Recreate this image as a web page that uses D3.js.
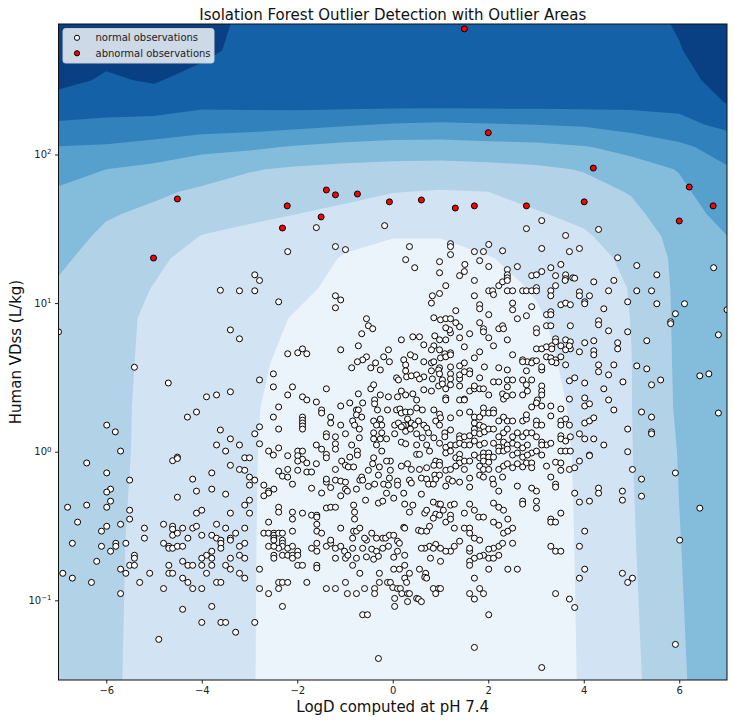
<!DOCTYPE html>
<html><head><meta charset="utf-8">
<script src="https://cdn.jsdelivr.net/npm/d3@7"></script>
<style>
body{margin:0;background:#fff;}
svg{display:block;font-family:"DejaVu Sans",sans-serif;}
</style></head>
<body>
<svg id="chart" width="734" height="720"></svg>
<script>
// ---------------- data ----------------
const titleText = "Isolation Forest Outlier Detection with Outlier Areas";
const xLabel = "LogD computed at pH 7.4";
const yLabel = "Human VDss (L/kg)";
const legendLabels = ["normal observations", "abnormal observations"];
const xTicks = [-6, -4, -2, 0, 2, 4, 6];
const yTicks = [0.1, 1, 10, 100];
const yTickExp = ["\u22121", "0", "1", "2"];
const xDomain = [-7, 7];
const yDomain = [0.0291, 755];

// decision-score grid (columns = LogD, rows = log10 VDss, top to bottom)
const gridLogD = [-7,-6,-5,-4,-3,-2,-1,0,1,2,3,4,5,6,7];
const gridLogVDss = [2.9,2.7,2.5,2.35,2.2,2.05,1.9,1.75,1.6,1.45,1.3,1.1,0.9,0.6,0.3,0.0,-0.6,-1.6];
const scoreColumns = [
 [7.8,7.6,7.3,6.59,5.88,4.97,4.35,3.89,3.65,3.40,3.15,2.9,2.75,2.6,2.55,2.5,2.5,2.5],
 [7.6,7.3,6.87,6.39,5.81,4.88,4.0,3.54,3.09,2.82,2.65,2.5,2.4,2.35,2.3,2.3,2.2,2.15],
 [7.7,7.5,7.1,6.47,5.69,4.64,3.76,3.16,2.81,2.54,2.2,1.96,1.79,1.76,1.74,1.72,1.7,1.7],
 [7.5,7.3,6.57,6.21,5.54,4.27,3.45,2.85,2.41,1.97,1.62,1.5,1.48,1.47,1.46,1.45,1.4,1.4],
 [6.7,6.6,6.45,6.3,5.42,4.17,3.07,2.59,2.15,1.82,1.65,1.5,1.4,1.3,1.2,1.15,1.12,1.1],
 [6.65,6.6,6.5,6.4,5.27,3.91,2.86,2.43,2.0,1.77,1.53,1.22,0.91,0.62,0.33,0.3,0.3,0.3],
 [6.65,6.6,6.5,6.4,5.1,3.7,2.74,2.26,1.78,1.31,0.9,0.72,0.4,0.25,0.2,0.2,0.2,0.2],
 [6.65,6.6,6.5,6.4,4.91,3.58,2.67,2.03,1.53,1.03,0.75,0.5,0.3,0.15,0.1,0.1,0.1,0.1],
 [6.65,6.6,6.5,6.4,4.83,3.58,2.62,1.94,1.48,1.03,0.75,0.5,0.3,0.15,0.1,0.1,0.1,0.1],
 [6.65,6.6,6.5,6.4,4.92,3.67,2.68,2.0,1.64,1.29,0.95,0.7,0.5,0.3,0.22,0.2,0.2,0.2],
 [6.65,6.6,6.5,6.4,5.0,3.75,2.82,2.36,1.92,1.6,1.3,1.07,0.9,0.75,0.6,0.4,0.4,0.4],
 [6.65,6.6,6.5,6.4,5.1,3.94,3.06,2.63,2.24,1.87,1.65,1.5,1.4,1.3,1.22,1.2,1.15,1.1],
 [6.65,6.6,6.45,6.3,5.42,4.29,3.6,3.07,2.75,2.52,2.21,2.05,2.02,1.99,1.985,1.97,1.9,1.75],
 [7.1,6.95,6.65,6.24,5.77,4.78,4.05,3.8,3.61,3.29,3.24,3.22,3.2,3.18,3.15,3.05,2.97,2.85],
 [7.8,7.6,7.4,7.05,6.2,5.45,4.9,4.59,4.29,3.99,3.95,3.9,3.88,3.85,3.82,3.8,3.75,3.7]
];
const contourLevels = [1,2,3,4,5,6,7];
const bandColors = ["#ebf3fb","#d2e3f3","#b2d2e8","#84bcdb","#56a0ce","#3181bd","#1461a8","#084083"];

// abnormal observations [LogD, VDss]
const abnormalObs = [
 [1.50,700],[2.0,140],[4.2,81],[6.21,60.4],[6.0,35.7],[6.71,45.1],[4.01,48],[2.8,45.1],[1.71,45.1],[1.31,43.6],
 [0.60,49.4],[-0.07,48],[-0.74,54.2],[-1.20,53.5],[-1.39,57.7],[-1.50,38],[-2.21,45.1],[-2.31,32],[-4.51,50.2],[-5.01,20.1]
];

// normal observations [LogD, VDss]
const normalUpperLeft = [
 [-3.61,12.2],[-3.40,6.6],[-7.0,6.4],[-5.41,3.7],[-4.70,2.9],[-3.90,2.34],[-3.69,2.41],[-3.40,2.53],[-4.30,1.71],[-4.11,1.85],
 [-5.99,1.51],[-5.81,1.36],[-3.61,1.40],[-3.40,1.22],[-3.69,1.11],[-3.50,1.01],[-5.70,1.01],[-6.41,0.84],[-4.61,0.87],[-4.51,0.92],
 [-4.51,0.90],[-5.99,0.72],[-3.79,0.72],[-3.40,0.81]
];
const normalUpperMidLeft = [
 [-1.60,32.2],[-0.17,33.2],[-2.20,22.2],[-1.20,24.0],[-0.99,22.9],[-2.89,15.5],[-2.79,14.2],[-3.21,12.1],[-2.89,12.1],[-2.39,10.2],
 [-1.20,11.2],[-1.09,10.5],[-1.20,9.3],[-0.55,7.85],[-0.51,7.04],[-0.42,6.72],[-0.65,6.22],[-3.21,5.75],[-0.72,5.16],[-1.09,4.85],
 [-2.20,4.56],[-1.99,4.63],[-1.89,4.92],[-1.80,4.56],[-0.09,4.85],[-0.19,4.35],[-0.55,4.35],[-0.63,4.15],[-0.74,4.03],[-0.86,3.67],
 [-0.46,3.67],[-0.36,3.96],[-0.26,3.55],[-0.07,4.03],[-2.50,3.34],[-2.79,3.04],[0.08,3.14],[-2.50,2.73],[-2.10,2.73],[-1.39,2.65],
 [-2.20,2.41],[-1.89,2.34],[-1.80,2.23],[-1.60,2.16],[-0.72,2.45],[-0.46,2.65],[-0.40,2.82],[-0.26,2.41],[-0.09,2.34],[0.10,2.34],
 [-0.38,2.23],[-0.90,2.13],[-0.63,2.13],[-2.39,2.0],[-1.09,2.03],[-1.49,1.91],[-1.49,1.82],[-0.76,1.91],[-0.72,1.91],[-0.32,1.91],
 [-0.11,1.91],[0.08,1.91],[-0.38,2.10],[-2.50,1.71],[-1.89,1.71],[-1.89,1.63],[-1.89,1.56],[-1.89,1.49],[-1.89,1.42],[-1.30,1.71],
 [-1.30,1.56],[-1.09,1.51],[-0.76,1.77],[-0.65,1.71],[-0.84,1.61],[-0.80,1.51],[-0.70,1.42],[-0.40,1.61],[-0.26,1.66],[-0.23,1.51],
 [-0.34,1.51],[0.04,1.51],[-2.79,1.47],[-2.39,1.42],[-2.89,1.32],[-1.39,1.32],[-1.39,1.26],[-1.20,1.26],[-0.99,1.32],[-0.70,1.24],
 [-0.40,1.22],[-0.26,1.22],[-0.13,1.22],[0.04,1.32],[-3.21,1.11],[-2.79,1.13],[-1.60,1.11],[-1.20,1.13],[-0.86,1.11],[-0.34,1.11],
 [-0.40,1.34],[-0.23,1.34],[-2.60,1.01],[-2.50,0.95],[-2.39,1.06],[-2.20,0.94],[-1.99,1.01],[-1.89,1.01],[-1.99,0.94],[-1.89,0.89],
 [-1.49,1.04],[-1.39,0.96],[-1.39,0.91],[-1.20,1.04],[-0.74,1.01],[-0.74,0.95],[-0.90,0.92],[-0.40,0.91],[-0.23,1.01],[-0.05,0.865],
 [-0.13,0.865],[-1.99,0.865],[-1.80,0.84],[-1.60,0.83],[-1.07,0.865],[-0.99,0.81],[-0.42,0.83],[-0.51,0.75],[-0.28,0.79],[-3.10,0.91],
 [-3.0,0.91],[-3.21,0.76],[-3.10,0.75],[-2.39,0.74],[-2.20,0.76],[-1.99,0.75],[-1.80,0.73],[-1.70,0.73],[-1.20,0.76],[-0.93,0.79],
 [-0.82,0.79],[-0.05,0.75]
];
const normalUpperMidRight = [
 [3.12,35.9],[2.80,31.7],[3.62,28.5],[0.35,24.0],[1.21,25.1],[1.21,24.0],[1.21,21.2],[2.01,24.8],[1.90,22.2],[1.71,22.2],
 [2.30,22.5],[3.12,23.3],[3.70,22.2],[0.27,19.6],[0.98,19.0],[1.82,19.3],[1.51,18.2],[0.46,17.3],[2.01,17.6],[2.61,17.6],
 [2.40,16.8],[0.98,16.0],[1.40,15.3],[1.50,16.3],[1.71,14.2],[2.40,15.5],[2.40,14.8],[2.91,15.3],[3.01,15.5],[3.12,16.3],
 [3.31,17.3],[3.52,18.2],[3.41,15.3],[3.62,15.5],[3.62,14.6],[3.77,14.8],[1.11,13.1],[0.83,11.2],[0.98,11.6],[0.81,10.0],
 [1.71,11.2],[2.01,12.1],[2.09,12.1],[2.11,11.4],[2.22,13.1],[2.30,13.9],[2.40,14.2],[2.40,12.1],[2.51,12.1],[2.72,12.1],
 [2.80,12.1],[2.91,12.1],[3.01,12.7],[3.01,12.1],[3.31,12.1],[3.31,11.2],[3.41,13.1],[3.61,14.2],[1.32,8.89],[1.82,9.75],
 [1.82,9.16],[2.01,8.36],[2.51,10.0],[2.51,9.02],[2.61,7.85],[2.80,8.22],[2.91,9.46],[3.22,8.36],[3.31,8.75],[3.31,8.36],
 [3.52,9.75],[3.62,10.0],[3.72,9.75],[0.86,7.97],[1.0,7.72],[1.11,7.85],[1.21,7.85],[1.32,7.38],[1.40,6.93],[1.82,7.38],
 [1.90,6.72],[1.90,6.41],[2.01,5.84],[2.22,6.72],[2.30,7.04],[2.32,6.72],[3.01,6.72],[3.01,6.31],[3.22,7.04],[3.31,7.04],
 [3.41,5.75],[3.41,5.49],[3.62,5.66],[3.72,5.49],[3.72,4.92],[3.72,7.04],[0.18,5.66],[0.42,5.93],[0.56,5.93],[0.65,5.24],
 [0.88,6.02],[0.98,5.66],[1.11,5.66],[0.86,5.16],[0.81,4.85],[0.98,4.85],[1.09,4.56],[1.21,6.31],[1.19,6.61],[1.11,6.82],
 [1.40,5.84],[1.50,5.08],[1.61,6.22],[1.71,4.28],[1.82,4.70],[2.11,5.16],[2.40,5.66],[2.51,4.49],[2.72,4.15],[2.82,4.03],
 [2.93,4.09],[3.01,4.92],[3.12,4.92],[3.22,5.08],[3.33,5.16],[3.33,4.92],[3.52,5.16],[3.62,4.85],[3.70,5.16],[0.23,4.15],
 [0.27,3.84],[0.46,4.35],[0.37,4.49],[0.65,4.03],[0.81,3.96],[0.86,4.03],[1.0,4.28],[1.11,4.35],[1.21,4.63],[1.21,4.49],
 [0.98,3.67],[1.21,3.72],[1.40,3.78],[1.50,3.96],[1.61,3.50],[1.92,3.72],[2.22,3.67],[2.40,3.55],[2.72,4.03],[2.80,3.50],
 [2.91,3.96],[3.01,4.09],[3.12,3.55],[3.12,3.72],[3.22,4.35],[3.31,4.28],[3.41,4.15],[3.52,4.35],[3.62,3.84],[3.42,3.96],
 [3.33,4.03],[0.12,3.04],[0.27,3.50],[0.29,3.19],[0.39,3.24],[0.50,3.29],[0.65,3.19],[0.56,3.09],[0.81,3.50],[0.96,3.55],
 [0.98,3.34],[0.83,3.09],[1.04,3.04],[1.21,3.34],[1.21,3.09],[1.40,3.09],[1.40,3.29],[1.50,3.45],[1.61,3.34],[1.82,3.14],
 [2.11,2.95],[2.22,2.95],[2.40,3.04],[2.51,3.04],[2.40,2.73],[2.72,3.04],[2.91,3.04],[2.80,2.82],[3.12,2.77],[3.70,3.0],
 [0.18,2.56],[0.27,2.41],[0.42,2.45],[0.65,2.61],[0.50,2.23],[0.81,2.56],[0.96,2.77],[1.04,2.86],[1.11,2.65],[1.21,2.82],
 [1.40,2.77],[1.40,2.23],[1.50,2.26],[1.61,2.56],[1.71,2.65],[1.71,2.77],[1.82,2.65],[1.90,2.65],[2.01,2.41],[2.30,2.45],
 [2.32,2.26],[2.38,2.37],[2.51,2.41],[2.72,2.41],[2.82,2.56],[3.12,2.56],[3.12,2.41],[3.03,2.23],[3.01,2.13],[3.12,2.03],
 [3.31,2.03],[3.52,1.94],[3.70,2.26],[0.15,1.94],[0.18,1.82],[0.27,1.85],[0.37,1.85],[0.50,1.97],[0.62,1.91],[0.86,1.91],
 [0.98,1.79],[1.11,2.30],[1.11,2.23],[1.0,1.69],[0.90,1.61],[0.98,1.51],[1.21,1.69],[1.40,1.82],[1.50,2.23],[1.61,1.85],
 [1.71,1.71],[1.71,1.56],[1.82,1.71],[1.90,1.97],[1.90,1.82],[2.01,1.82],[2.11,1.91],[2.11,1.82],[2.22,1.61],[2.32,1.71],
 [2.40,1.61],[2.51,1.61],[2.72,1.61],[2.80,1.66],[2.80,1.77],[2.91,2.0],[3.01,1.61],[3.01,1.51],[3.12,1.51],[3.31,1.74],
 [3.52,1.61],[3.52,1.51],[3.62,1.66],[3.70,1.51],[0.31,1.66],[0.27,1.51],[0.22,1.50],[0.39,1.56],[0.46,1.51],[0.54,1.61],
 [0.65,1.51],[0.71,1.44],[0.12,1.56],[0.18,1.47],[0.27,1.37],[0.37,1.42],[0.50,1.32],[0.62,1.24],[0.75,1.34],[0.86,1.24],
 [1.09,1.34],[1.09,1.26],[1.21,1.40],[1.40,1.28],[1.40,1.22],[1.50,1.26],[1.61,1.28],[1.71,1.42],[1.71,1.34],[1.82,1.51],
 [1.82,1.32],[1.90,1.47],[1.92,1.36],[2.01,1.42],[2.11,1.42],[2.22,1.26],[2.32,1.34],[2.40,1.42],[2.51,1.26],[2.61,1.34],
 [2.72,1.26],[2.80,1.34],[2.91,1.34],[3.01,1.26],[3.12,1.16],[3.22,1.11],[3.52,1.28],[3.52,1.22],[3.62,1.18],[3.72,1.26],
 [0.18,1.16],[0.27,1.13],[0.50,1.11],[0.71,1.11],[0.98,1.14],[1.11,1.07],[1.21,1.11],[1.32,1.11],[1.40,1.14],[1.50,1.11],
 [1.61,1.11],[1.71,1.18],[1.82,1.11],[1.92,1.14],[2.11,1.14],[2.22,1.07],[2.32,1.16],[2.40,1.11],[2.51,1.14],[2.61,1.11],
 [2.72,1.06],[2.82,1.11],[2.91,0.98],[3.01,1.01],[3.12,1.11],[3.31,1.14],[3.52,1.01],[3.62,1.01],[3.72,1.01],[0.50,0.96],
 [0.56,0.96],[0.77,1.01],[0.90,0.865],[0.98,0.85],[1.11,0.98],[1.21,1.01],[1.32,0.91],[1.40,0.96],[1.40,0.89],[1.40,0.84],
 [1.50,0.865],[1.61,0.865],[1.71,0.95],[1.82,0.91],[1.90,0.98],[1.90,0.92],[1.90,0.865],[2.01,0.98],[2.01,0.92],[2.01,0.85],
 [2.11,0.92],[2.22,1.01],[2.32,1.01],[2.40,1.04],[2.51,0.95],[2.61,0.98],[2.72,0.92],[2.82,0.95],[2.80,0.84],[2.91,0.84],
 [3.12,0.95],[3.22,0.80],[3.41,0.85],[3.52,0.84],[3.52,0.75],[3.70,0.76],[0.18,0.80],[0.31,0.83],[0.39,0.76],[0.56,0.76],
 [0.71,0.78],[0.86,0.81],[0.98,0.81],[1.11,0.75],[1.21,0.76],[1.32,0.80],[1.50,0.76],[1.82,0.80],[1.90,0.76],[2.01,0.76],
 [2.22,0.76],[2.32,0.80],[2.40,0.83],[2.51,0.78],[2.61,0.83],[2.72,0.79],[2.91,0.78]
];
const normalUpperRight = [
 [4.31,31.3],[3.91,23.3],[4.71,20.2],[5.11,17.9],[5.53,15.5],[6.72,17.3],[3.81,14.7],[4.21,13.9],[4.63,14.2],[3.91,11.9],
 [3.91,11.2],[4.12,11.2],[4.52,12.1],[5.11,12.1],[5.42,12.1],[4.02,10.2],[4.02,9.9],[4.42,9.16],[4.92,10.2],[5.53,9.9],
 [6.11,9.9],[5.92,8.48],[5.82,7.49],[5.82,7.27],[7.0,9.02],[4.31,7.6],[4.31,7.15],[4.52,6.51],[4.92,6.41],[6.82,6.12],
 [5.32,5.58],[4.02,5.41],[4.21,5.58],[4.21,4.78],[4.21,4.49],[3.91,4.70],[4.71,5.41],[4.71,4.92],[4.31,3.84],[4.31,3.45],
 [4.63,3.84],[4.52,3.29],[5.11,3.78],[5.32,3.61],[3.81,3.14],[4.02,2.90],[4.82,2.95],[4.42,2.65],[5.42,2.82],[5.61,3.04],
 [6.43,3.24],[6.62,3.34],[4.02,2.30],[4.02,2.03],[4.12,2.10],[4.52,2.23],[4.63,1.91],[5.21,1.85],[5.42,1.71],[6.82,1.82],
 [4.02,1.56],[4.12,1.61],[4.21,1.69],[4.92,1.42],[5.42,1.36],[5.42,1.32],[3.91,1.32],[4.02,1.22],[4.21,1.22],[4.42,1.11],
 [4.12,0.95],[4.12,0.94],[4.92,1.0],[3.91,0.865],[3.81,0.78],[5.02,0.76],[5.92,0.72]
];
const normalLowerLeft = [
 [-5.51,0.644],[-5.91,0.560],[-5.99,0.535],[-5.91,0.465],[-5.99,0.423],[-6.81,0.423],[-6.41,0.437],[-6.60,0.336],[-5.51,0.404],[-5.51,0.352],
 [-5.70,0.325],[-5.99,0.315],[-6.10,0.292],[-6.71,0.242],[-6.10,0.231],[-5.91,0.214],[-5.80,0.242],[-5.80,0.231],[-5.59,0.242],[-6.20,0.183],
 [-5.41,0.201],[-5.41,0.192],[-5.51,0.172],[-5.41,0.172],[-5.70,0.162],[-5.59,0.152],[-6.91,0.152],[-6.71,0.141],[-6.31,0.132],[-5.70,0.111],
 [-4.19,0.654],[-3.00,0.675],[-3.00,0.596],[-2.89,0.644],[-4.11,0.543],[-3.79,0.560],[-3.50,0.518],[-4.51,0.494],[-3.10,0.437],[-3.00,0.472],
 [-4.11,0.386],[-4.00,0.404],[-3.40,0.386],[-3.00,0.386],[-4.80,0.325],[-4.61,0.315],[-4.61,0.301],[-4.40,0.306],[-4.19,0.306],[-4.11,0.315],
 [-3.69,0.325],[-3.50,0.306],[-3.10,0.306],[-4.61,0.274],[-4.51,0.283],[-4.29,0.262],[-4.00,0.274],[-3.79,0.274],[-3.69,0.262],[-3.60,0.254],
 [-3.60,0.242],[-3.40,0.262],[-3.40,0.254],[-3.29,0.283],[-3.10,0.242],[-5.20,0.306],[-5.20,0.262],[-4.80,0.242],[-4.69,0.231],[-4.69,0.224],
 [-4.61,0.224],[-4.51,0.231],[-4.40,0.231],[-3.79,0.214],[-3.90,0.201],[-3.79,0.192],[-3.60,0.224],[-4.00,0.192],[-3.40,0.192],[-3.21,0.201],
 [-3.10,0.192],[-3.21,0.231],[-4.40,0.183],[-4.29,0.172],[-4.19,0.172],[-4.00,0.172],[-3.79,0.172],[-3.50,0.172],[-3.40,0.162],[-4.69,0.172],
 [-4.69,0.152],[-4.61,0.152],[-5.09,0.152],[-5.30,0.132],[-4.80,0.120],[-4.40,0.141],[-4.29,0.132],[-4.19,0.120],[-4.00,0.120],[-3.90,0.152],
 [-3.69,0.132],[-3.60,0.132],[-3.21,0.152],[-3.10,0.141],[-4.40,0.087],[-3.79,0.091],[-4.00,0.071],[-3.60,0.071],[-3.50,0.071],[-3.29,0.061],
 [-2.89,0.071],[-4.90,0.0546],
 [-2.70,0.596],[-2.60,0.543],[-2.60,0.527],[-2.49,0.560],[-2.70,0.505],[-2.39,0.423],[-2.39,0.392],[-2.10,0.392],[-2.10,0.352],[-1.89,0.386],
 [-1.70,0.374],[-1.59,0.374],[-1.59,0.363],[-1.59,0.325],[-1.59,0.292],[-1.49,0.283],[-1.70,0.568],[-1.49,0.527],[-2.10,0.605],[-2.31,0.685],
 [-2.20,0.675],[-2.60,0.336],[-2.70,0.283],[-2.60,0.283],[-2.49,0.283],[-2.49,0.274],[-2.49,0.262],[-2.49,0.254],[-2.39,0.283],[-2.31,0.283],
 [-2.31,0.254],[-2.31,0.242],[-2.31,0.231],[-2.39,0.224],[-2.60,0.231],[-2.49,0.231],[-2.49,0.201],[-2.49,0.192],[-2.31,0.201],[-2.20,0.201],
 [-2.20,0.224],[-2.10,0.231],[-2.10,0.201],[-2.10,0.192],[-2.10,0.292],[-1.99,0.214],[-1.99,0.201],[-1.99,0.172],[-1.89,0.172],[-1.70,0.224],
 [-1.59,0.214],[-1.59,0.242],[-1.59,0.172],[-1.59,0.165],[-1.39,0.231],[-1.30,0.242],[-1.30,0.254],[-1.20,0.224],[-1.09,0.231],[-1.20,0.192],
 [-1.01,0.214],[-0.99,0.192],[-0.94,0.201],[-0.84,0.224],[-0.84,0.172],[-0.76,0.192],[-0.69,0.152],[-0.84,0.262],[-0.82,0.292],[-0.76,0.292],
 [-0.63,0.224],[-0.55,0.196],[-0.55,0.254],[-0.59,0.262],[-0.69,0.306],[-1.09,0.306],[-2.79,0.162],[-2.79,0.120],[-2.60,0.111],[-2.39,0.132],
 [-2.31,0.132],[-2.20,0.132],[-2.39,0.120],[-2.31,0.091],[-1.80,0.132],[-1.39,0.120],[-1.20,0.120],[-0.99,0.132],[-0.95,0.111],[-0.76,0.111],
 [-0.63,0.080],[-0.53,0.080],[-0.59,0.120],[-1.09,0.505],[-0.82,0.437],[-0.80,0.392],[-0.80,0.352],[-1.39,0.418],[-1.30,0.423],[-1.20,0.423],
 [-1.39,0.624],[-1.39,0.654],[-1.30,0.574],[-1.20,0.644],[-1.09,0.634],[-0.99,0.624],[-0.99,0.560],[-0.95,0.543],[-0.76,0.560],[-0.69,0.644],
 [-0.65,0.675],[-0.63,0.644],[-0.57,0.472],[-0.51,0.585]
];
const normalLowerRight = [
 [-0.38,0.605],[-0.30,0.696],[-0.19,0.605],[-0.13,0.526],[-0.09,0.596],[-0.07,0.664],[0.10,0.634],[0.35,0.644],[0.39,0.615],[0.60,0.664],
 [0.71,0.654],[0.75,0.605],[0.85,0.605],[0.88,0.696],[0.90,0.654],[0.98,0.696],[1.11,0.587],[1.17,0.654],[1.25,0.634],[1.40,0.624],
 [1.61,0.578],[1.61,0.664],[1.82,0.696],[1.90,0.675],[2.09,0.654],[2.11,0.605],[2.22,0.543],[2.30,0.675],[2.61,0.587],[2.91,0.569],
 [3.01,0.543],[3.31,0.675],[3.41,0.605],[3.41,0.578],[3.81,0.526],[4.31,0.569],[4.31,0.526],[4.81,0.543],[4.81,0.472],[5.21,0.654],
 [5.21,0.502],[-0.30,0.451],[-0.21,0.465],[0.02,0.487],[0.10,0.596],[0.23,0.526],[0.25,0.444],[0.35,0.392],[0.42,0.437],[0.60,0.518],
 [0.85,0.458],[0.96,0.444],[1.0,0.444],[0.90,0.380],[0.67,0.386],[0.71,0.404],[1.06,0.404],[1.21,0.437],[1.29,0.444],[1.50,0.386],
 [1.61,0.444],[1.71,0.404],[1.80,0.363],[2.11,0.451],[2.22,0.423],[2.32,0.404],[2.41,0.352],[2.72,0.465],[2.72,0.444],[3.01,0.465],
 [3.01,0.417],[3.52,0.386],[3.91,0.458],[4.12,0.465],[6.43,0.417],[3.31,0.352],[3.31,0.336],[3.41,0.336],[-0.44,0.283],[-0.34,0.262],
 [-0.21,0.262],[-0.15,0.262],[-0.07,0.274],[0.02,0.274],[0.10,0.250],[0.14,0.242],[0.23,0.310],[0.25,0.306],[0.54,0.296],[0.60,0.292],
 [0.71,0.292],[0.77,0.315],[0.85,0.357],[0.98,0.374],[1.11,0.336],[1.21,0.374],[1.21,0.352],[1.29,0.306],[1.50,0.306],[1.61,0.306],
 [1.61,0.283],[1.71,0.262],[1.82,0.254],[1.90,0.363],[2.11,0.336],[2.22,0.320],[2.32,0.283],[2.41,0.292],[2.51,0.306],[2.51,0.242],
 [2.22,0.231],[2.30,0.242],[2.11,0.224],[2.01,0.221],[1.90,0.201],[1.82,0.198],[1.71,0.192],[1.61,0.214],[1.61,0.224],[1.40,0.250],
 [1.29,0.231],[1.21,0.214],[1.11,0.214],[1.0,0.224],[0.90,0.238],[0.77,0.231],[0.67,0.224],[0.60,0.224],[0.85,0.224],[3.91,0.231],
 [4.02,0.292],[3.31,0.231],[3.41,0.214],[3.52,0.214],[6.01,0.254],[-0.44,0.221],[-0.34,0.214],[-0.40,0.189],[-0.30,0.198],[-0.21,0.224],
 [-0.09,0.231],[0.02,0.195],[0.25,0.201],[0.10,0.214],[0.25,0.172],[0.14,0.162],[0.02,0.162],[0.56,0.162],[0.69,0.152],[0.79,0.192],
 [1.0,0.183],[1.61,0.183],[1.61,0.172],[2.01,0.192],[2.11,0.192],[2.22,0.201],[2.61,0.162],[2.41,0.162],[2.01,0.162],[3.91,0.141],
 [4.02,0.162],[4.81,0.152],[4.92,0.132],[5.02,0.141],[-0.38,0.120],[-0.38,0.111],[-0.28,0.152],[-0.28,0.132],[-0.11,0.132],[-0.05,0.132],
 [0.0,0.122],[0.04,0.103],[0.04,0.091],[0.10,0.120],[0.16,0.120],[0.25,0.141],[0.29,0.132],[0.35,0.152],[0.19,0.111],[0.31,0.111],
 [0.35,0.111],[0.31,0.098],[0.50,0.103],[0.54,0.102],[0.60,0.098],[0.67,0.143],[0.71,0.141],[0.85,0.120],[0.96,0.120],[0.90,0.111],
 [1.0,0.120],[1.71,0.141],[1.82,0.120],[1.90,0.111],[1.61,0.111],[1.71,0.102],[2.01,0.080],[3.41,0.111],[3.70,0.102],[3.81,0.0895],
 [-0.30,0.0406],[1.71,0.0482],[3.12,0.0353],[5.92,0.0505]
];
const normalObs = [].concat(normalUpperLeft, normalUpperMidLeft, normalUpperMidRight, normalUpperRight, normalLowerLeft, normalLowerRight);

// ---------------- drawing ----------------
const W = 734, H = 720;
const plot = {left: 58.5, right: 727, top: 24, bottom: 680};
const svg = d3.select("#chart");
const x = d3.scaleLinear().domain(xDomain).range([plot.left, plot.right]);
const y = d3.scaleLog().domain(yDomain).range([plot.bottom, plot.top]);

svg.append("defs").append("clipPath").attr("id", "clip")
  .append("rect").attr("x", plot.left).attr("y", plot.top)
  .attr("width", plot.right - plot.left).attr("height", plot.bottom - plot.top);

const area = svg.append("g").attr("clip-path", "url(#clip)");
area.append("rect").attr("x", plot.left).attr("y", plot.top)
  .attr("width", plot.right - plot.left).attr("height", plot.bottom - plot.top)
  .attr("fill", bandColors[0]);

// contour bands
const nx = gridLogD.length, ny = gridLogVDss.length;
const values = new Array(nx * ny);
for (let j = 0; j < ny; j++) for (let i = 0; i < nx; i++) values[j * nx + i] = scoreColumns[i][j];
const colToLogD = d3.scaleLinear().domain(d3.range(nx).map(i => i + 0.5)).range(gridLogD);
const rowToLog = d3.scaleLinear().domain(d3.range(ny).map(j => j + 0.5)).range(gridLogVDss);
const proj = d3.geoTransform({
  point(px, py) { this.stream.point(x(colToLogD(px)), y(Math.pow(10, rowToLog(py)))); }
});
const path = d3.geoPath(proj);
const contours = d3.contours().size([nx, ny]).thresholds(contourLevels)(values);
area.selectAll("path.band").data(contours).join("path")
  .attr("class", "band")
  .attr("d", path)
  .attr("fill", (d, k) => bandColors[k + 1])
  .attr("stroke", "none");

// points
area.selectAll("circle.normal").data(normalObs).join("circle")
  .attr("class", "normal")
  .attr("cx", d => x(d[0])).attr("cy", d => y(d[1])).attr("r", 3)
  .attr("fill", "#ffffff").attr("stroke", "#000").attr("stroke-width", 1);
area.selectAll("circle.abn").data(abnormalObs).join("circle")
  .attr("class", "abn")
  .attr("cx", d => x(d[0])).attr("cy", d => y(d[1])).attr("r", 3)
  .attr("fill", "#ff0000").attr("stroke", "#000").attr("stroke-width", 1);

// axes
const xAxis = svg.append("g").attr("transform", `translate(0,${plot.bottom})`)
  .call(d3.axisBottom(x).tickValues(xTicks).tickSize(3.5).tickSizeOuter(0).tickPadding(3.5));
xAxis.select(".domain").remove();
xAxis.selectAll("text").attr("font-size", 10).attr("fill", "#222").attr("font-family", "DejaVu Sans");
xAxis.selectAll("line").attr("stroke", "#222");

const yAxis = svg.append("g").attr("transform", `translate(${plot.left},0)`)
  .call(d3.axisLeft(y).tickValues(yTicks).tickSize(3.5).tickSizeOuter(0).tickFormat(() => ""));
yAxis.select(".domain").remove();
yAxis.selectAll("line").attr("stroke", "#222");
yAxis.selectAll(".tick").each(function(d, i) {
  const t = d3.select(this).select("text").text(null)
    .attr("font-size", 10).attr("fill", "#222").attr("font-family", "DejaVu Sans")
    .attr("x", -7).attr("dy", "0.32em");
  t.append("tspan").text("10");
  t.append("tspan").text(yTickExp[i]).attr("font-size", 7).attr("dy", "-0.55em");
});

// frame
svg.append("rect").attr("x", plot.left).attr("y", plot.top)
  .attr("width", plot.right - plot.left).attr("height", plot.bottom - plot.top)
  .attr("fill", "none").attr("stroke", "#111").attr("stroke-width", 1);

// titles
svg.append("text").attr("x", (plot.left + plot.right) / 2).attr("y", 19.5)
  .attr("text-anchor", "middle").attr("font-size", 15).attr("fill", "#111").text(titleText);
svg.append("text").attr("x", (plot.left + plot.right) / 2).attr("y", 711.5)
  .attr("text-anchor", "middle").attr("font-size", 15).attr("fill", "#111").text(xLabel);
svg.append("text").attr("transform", `translate(21,${(plot.top + plot.bottom) / 2}) rotate(-90)`)
  .attr("text-anchor", "middle").attr("font-size", 15).attr("fill", "#111").text(yLabel);

// legend
const lg = svg.append("g");
lg.append("rect").attr("x", 63).attr("y", 28.5).attr("width", 151).attr("height", 34.5).attr("rx", 2.5)
  .attr("fill", "#ffffff").attr("fill-opacity", 0.8).attr("stroke", "#cccccc").attr("stroke-width", 1);
const legendFill = ["#ffffff", "#ff0000"];
legendLabels.forEach((lab, i) => {
  const cy = 37.8 + i * 15.5;
  lg.append("circle").attr("cx", 77).attr("cy", cy).attr("r", 2.6)
    .attr("fill", legendFill[i]).attr("stroke", "#000").attr("stroke-width", 1);
  lg.append("text").attr("x", 95.5).attr("y", cy + 3.6).attr("font-size", 10).attr("fill", "#222").text(lab);
});
</script>
</body></html>
